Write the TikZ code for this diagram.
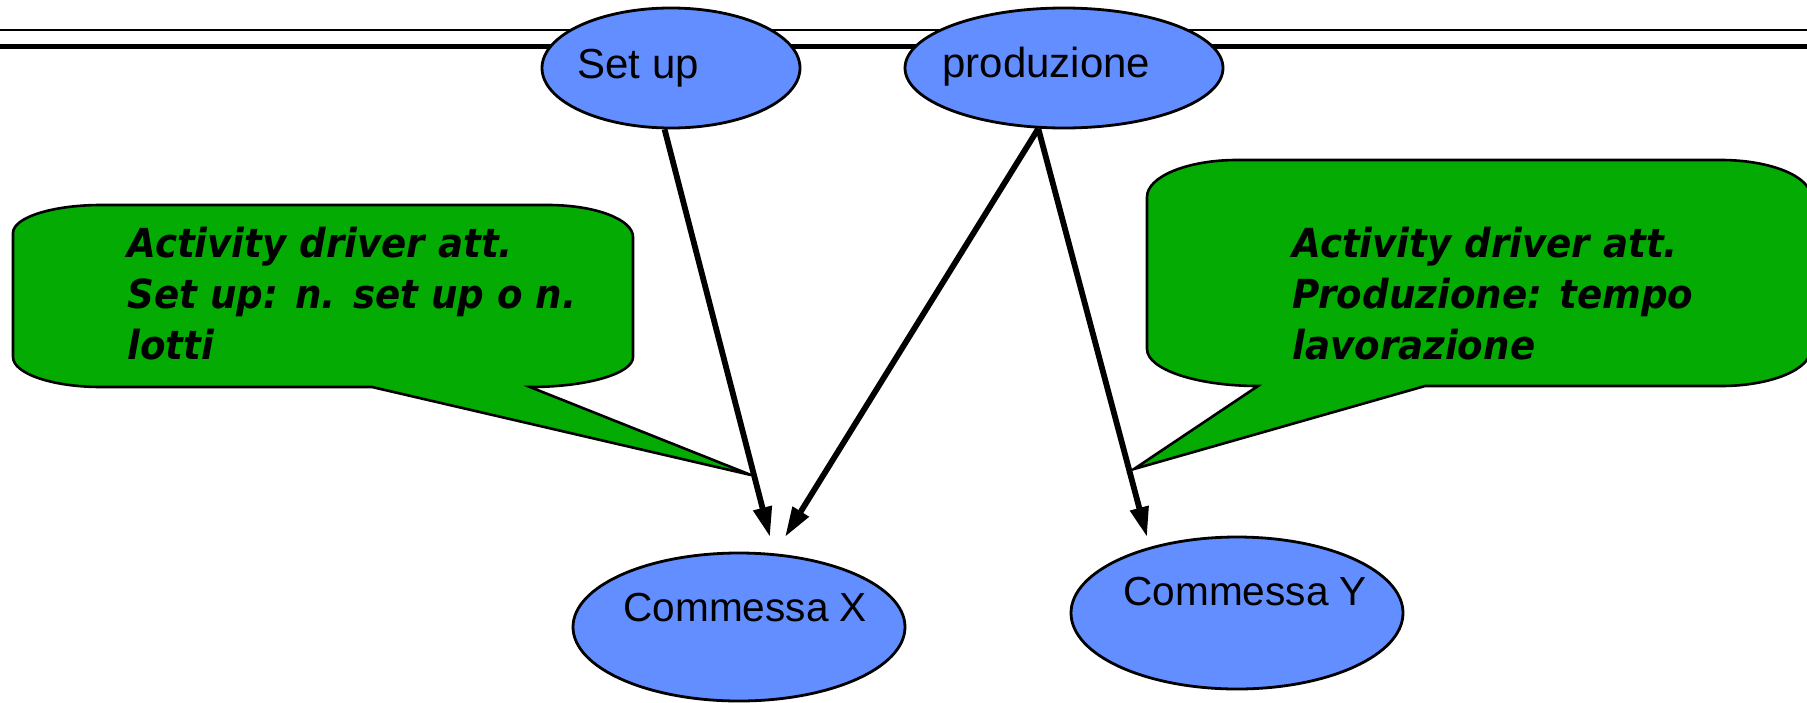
\documentclass[tikz,border=0pt]{standalone}
\usepackage{fontspec}
\setmainfont{Liberation Sans}
\newfontfamily\calloutfont{DejaVu Sans}[BoldItalicFont={DejaVu Sans Bold Oblique}, FakeStretch=0.93]
\usetikzlibrary{shapes.geometric,arrows.meta}
\definecolor{nodeblue}{RGB}{98,142,255}
\definecolor{notegreen}{RGB}{3,171,3}
\tikzset{
  activity/.style={ellipse, draw=black, line width=1.4pt, fill=nodeblue, inner sep=0pt},
  label text/.style={anchor=base west, inner sep=0pt, font=\fontsize{21}{25}\selectfont},
  order text/.style={anchor=base west, inner sep=0pt, font=\fontsize{20.3}{24}\selectfont},
  note/.style={draw=black, line width=1.3pt, fill=notegreen, line join=miter},
  note text/.style={anchor=base west, inner sep=0pt, font=\calloutfont\bfseries\itshape\fontsize{20}{25}\selectfont},
  flow/.style={draw=black, line width=2.9pt, -{Triangle[length=15pt,width=9pt]}},
}
\begin{document}
\begin{tikzpicture}[x=0.5pt, y=-0.5pt]
\useasboundingbox (0,0) rectangle (1807,702);
\clip (0,0) rectangle (1807,702);

% title rules
\draw[line width=1.2pt] (0,30) -- (1807,30);
\draw[line width=2.5pt] (0,46.5) -- (1807,46.5);

% callout for the set-up driver
\path[note] (13,233) .. controls (13,217.5) and (52.4,205) .. (101,205)
  -- (548,205) .. controls (595,205) and (633,219.3) .. (633,237)
  -- (633,357) .. controls (633,373.6) and (586.9,387) .. (530,387)
  -- (751,475) -- (372,387)
  -- (101,387) .. controls (52.4,387) and (13,373.6) .. (13,357) -- cycle;
\node[note text] (n1a) at (127,257) {Activity driver att.};
\node[note text] (n1b) at (127,308) {Set up: n. set up o n.};
\node[note text] (n1c) at (127,359) {lotti};

% callout for the production driver
\path[note] (1147,197) .. controls (1147,176.6) and (1187.3,160) .. (1237,160)
  -- (1721,160) .. controls (1770.7,160) and (1811,176.6) .. (1811,197)
  -- (1811,349) .. controls (1811,369.4) and (1770.7,386) .. (1721,386)
  -- (1425,386) -- (1134,469) -- (1258,386)
  .. controls (1196.7,386) and (1147,369.4) .. (1147,349) -- cycle;
\node[note text] (n2a) at (1292,257) {Activity driver att.};
\node[note text] (n2b) at (1292,308) {Produzione: tempo};
\node[note text] (n2c) at (1292,359) {lavorazione};

% activities and cost objects
\node[activity, minimum width=129pt, minimum height=60pt] (setup) at (671,68) {};
\node[activity, minimum width=159pt, minimum height=60pt] (prod) at (1064,68) {};
\node[activity, minimum width=166pt, minimum height=74pt] (cx) at (739,627) {};
\node[activity, minimum width=166pt, minimum height=76pt] (cy) at (1237,613) {};

\node[label text] (tsetup) at (577,78) {Set up};
\node[label text] (tprod) at (942,77) {produzione};
\node[order text] (tcx) at (623,621) {Commessa X};
\node[order text] (tcy) at (1123,605) {Commessa Y};

% arrow ends just above the cost objects
\coordinate (inx1) at (770,537);
\coordinate (inx2) at (785,537);
\coordinate (iny) at (1147,537);

\draw[flow] (setup.264) -- (inx1);
\draw[flow] (prod.247) -- (inx2);
\draw[flow] (prod.247) -- (iny);
\end{tikzpicture}
\end{document}
